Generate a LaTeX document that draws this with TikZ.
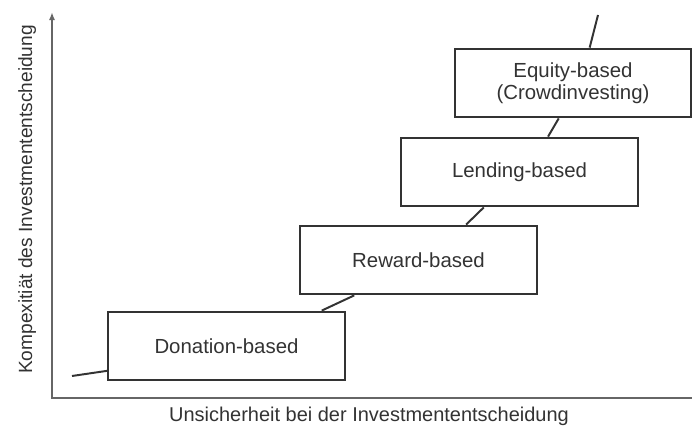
\documentclass[tikz,border=0pt]{standalone}
\usepackage{fontspec}
\setmainfont{Liberation Sans}
\usetikzlibrary{arrows.meta,calc}
\definecolor{ink}{gray}{0.2}
\definecolor{axisgray}{gray}{0.4}
\tikzset{
  box/.style={draw=ink, line width=1.4pt, fill=white, text=ink, align=center,
    minimum width=5.9cm, minimum height=1.72cm, inner sep=0pt,
    font=\fontsize{14.5}{15.6}\selectfont},
  trend/.style={draw=ink, line width=1.4pt},
  axislabel/.style={text=ink, inner sep=0pt}
}
\begin{document}
\begin{tikzpicture}[x=0.025cm,y=-0.025cm]
    \useasboundingbox (0,0) rectangle (692,427);
    \draw[{Latex[length=2mm,width=1.5mm]}-, line width=1.8pt, draw=axisgray] (52,12)--(52,398)--(692,398);

    \node[box] (don) at (226.5,346) {Donation-based};
    \node[box] (rew) at (418.5,260) {Reward-based};
    \node[box] (lend) at (519.5,172) {Lending-based};
    \node[box] (eq) at (573,83) {Equity-based\\(Crowdinvesting)};

    \coordinate (start) at (72,376);
    \coordinate (end) at (598,15);
    \draw[trend] (start) -- ($(don.north west)!0.85!(don.south west)$);
    \foreach \a/\p/\b/\q in {don/0.9/rew/0.23, rew/0.7/lend/0.35, lend/0.62/eq/0.44}
      \draw[trend] ($(\a.north west)!\p!(\a.north east)$) -- ($(\b.south west)!\q!(\b.south east)$);
    \draw[trend] ($(eq.north west)!0.57!(eq.north east)$) -- (end);

    \node[axislabel, anchor=base, font=\fontsize{14.2}{16}\selectfont] (xlab) at (369,421)
      {Unsicherheit bei der Investmententscheidung};
    \node[axislabel, anchor=base, rotate=90, font=\fontsize{13.6}{16}\selectfont] (ylab) at (32,199.5)
      {Kompexitiät des Investmententscheidung};
  \end{tikzpicture}
\end{document}
